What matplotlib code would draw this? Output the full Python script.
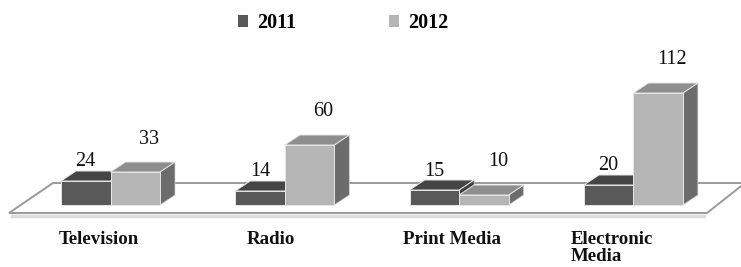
import matplotlib.pyplot as plt
from matplotlib.patches import Polygon

categories = ["Television", "Radio", "Print Media", "Electronic\nMedia"]
series_names = ["2011", "2012"]
values_2011 = [24, 14, 15, 20]
values_2012 = [33, 60, 10, 112]

# colours for (front, top, side) of each series
front_colors = ["#595959", "#b5b5b5"]
top_colors = ["#454545", "#8e8e8e"]
side_colors = ["#3e3e3e", "#6c6c6c"]

# fake 3D geometry (axes units are ~1 px, 1 unit of value = 1 px)
bar_w = 49.5
depth_x, depth_y = 15, 10
group_start, group_step = 61, 174.3
label_nudge = [-12, -14, -7, -22]

fig = plt.figure(figsize=(7.41, 2.67), dpi=100)
ax = fig.add_axes([0, 0, 1, 1])
ax.set_xlim(0, 741)
ax.set_ylim(-62, 205)
ax.axis("off")

plt.rcParams["font.family"] = ["Liberation Serif", "DejaVu Serif"]

# floor
floor = Polygon([(9, -8), (707, -8), (745, 22), (53, 22)], closed=True,
                facecolor="white", edgecolor="#9a9a9a", lw=1.4, zorder=1)
ax.add_patch(floor)
ax.plot([12, 704], [-10.5, -10.5], color="#dcdcdc", lw=2.5, zorder=0.9)

xs = [group_start + i * group_step for i in range(len(categories))]
handles = []
for k, vals in enumerate([values_2011, values_2012]):
    x = [xi + k * bar_w for xi in xs]
    bars = ax.bar(x, vals, width=bar_w, align="edge", color=front_colors[k],
                  edgecolor="#e6e6e6", lw=0.7, zorder=3 + 2 * k)
    handles.append(bars)
    for b in bars:
        x0, w, h = b.get_x(), b.get_width(), b.get_height()
        top = Polygon([(x0, h), (x0 + w, h), (x0 + w + depth_x, h + depth_y),
                       (x0 + depth_x, h + depth_y)], closed=True,
                      facecolor=top_colors[k], edgecolor="#e6e6e6", lw=0.7,
                      zorder=2.9 + 2 * k)
        side = Polygon([(x0 + w, 0), (x0 + w + depth_x, depth_y),
                        (x0 + w + depth_x, h + depth_y), (x0 + w, h)], closed=True,
                       facecolor=side_colors[k], edgecolor="#d0d0d0", lw=0.5,
                       zorder=2.8 + 2 * k)
        ax.add_patch(top)
        ax.add_patch(side)

# value labels
for xi, v in zip(xs, values_2011):
    ax.text(xi + bar_w / 2, v + depth_y + 9, str(v), ha="center", va="center",
            fontsize=14.5, color="#111111", zorder=10)
for xi, v in zip(xs, values_2012):
    ax.text(xi + bar_w * 1.5 + 14, v + depth_y + 23, str(v), ha="center",
            va="center", fontsize=14.5, color="#111111", zorder=10)

# category labels
for xi, name, nd in zip(xs, categories, label_nudge):
    ax.text(xi + bar_w + nd, -26, name, ha="center", va="top",
            multialignment="left", fontsize=13.6, fontweight="bold",
            color="#111111", linespacing=1.0)

leg = ax.legend(handles, series_names, loc="center", bbox_to_anchor=(343, 182),
                bbox_transform=ax.transData, ncol=2, frameon=False,
                prop={"family": "Liberation Serif", "weight": "bold", "size": 14.5},
                handlelength=0.5, handleheight=0.5, handletextpad=0.45,
                columnspacing=4.6)
for h in leg.legend_handles:
    h.set_edgecolor("none")

fig.savefig("out.png", dpi=100)
